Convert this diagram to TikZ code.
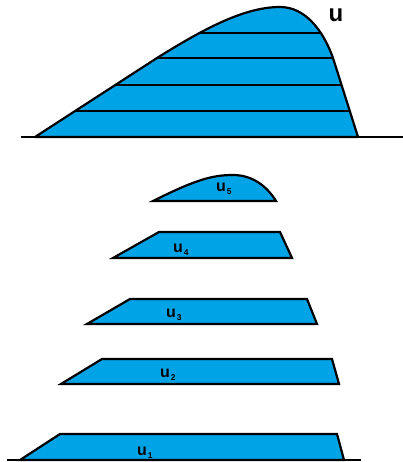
\documentclass[tikz,border=0pt]{standalone}
\usepackage{fontspec}
\setmainfont{Liberation Sans}
\usetikzlibrary{positioning}

\definecolor{layerblue}{RGB}{0,163,230}
\newcommand{\ulab}[1]{u\kern1pt\raisebox{-3pt}{\fontsize{8.5}{8.5}\selectfont #1}}

\begin{document}
\begin{tikzpicture}[x=1pt, y=-1pt,
  slab/.style={draw, fill=layerblue, line width=2.2pt, line join=miter},
  ground/.style={draw, line width=2pt},
  cut/.style={draw, line width=2.2pt},
  lbl/.style={font=\bfseries\fontsize{16}{18}\selectfont, inner sep=0pt, anchor=base west},
  big/.style={font=\bfseries\fontsize{24}{26}\selectfont, inner sep=0pt}
]
  \useasboundingbox (0,0) rectangle (403,462);

  % whole profile u with its cuts
  \draw[ground] (21,137) -- (403,137);
  \path[save path=\profilepath] (35,137) -- (157,58)
    .. controls (205,28) and (245,7) .. (280,7)
    .. controls (305,7) and (323,30) .. (333,58) -- (358,137) -- cycle;
  \fill[layerblue, use path=\profilepath];
  \begin{scope}
    \clip[use path=\profilepath];
    \draw[cut] (0,33) -- (403,33);
    \draw[cut] (0,58) -- (403,58);
    \draw[cut] (0,85) -- (403,85);
    \draw[cut] (0,111) -- (403,111);
  \end{scope}
  \draw[slab, fill=none, line join=round, use path=\profilepath];
  \node[big] (u) at (336,15) {u};

  % the slices, top to bottom
  \draw[slab] (153,201) .. controls (195,180) and (212,175) .. (233,175)
    .. controls (254,175) and (268,188) .. (276,201) -- cycle;
  \node[lbl] (u5) at (216,191) {\ulab{5}};

  \draw[slab] (113,258) -- (159,232) -- (280,232) -- (292,258) -- cycle;
  \node[lbl] (u4) at (173,252) {\ulab{4}};

  \draw[slab] (87,324) -- (130,299) -- (307,299) -- (317,324) -- cycle;
  \node[lbl] (u3) at (166,317) {\ulab{3}};

  \draw[slab] (61,384) -- (102,359) -- (332,359) -- (339,384) -- cycle;
  \node[lbl] (u2) at (160,377) {\ulab{2}};

  \draw[slab] (20,460) -- (60,434) -- (337,434) -- (344,460) -- cycle;
  \draw[ground] (7,460) -- (361,460);
  \node[lbl] (u1) at (137,455) {\ulab{1}};
\end{tikzpicture}
\end{document}
